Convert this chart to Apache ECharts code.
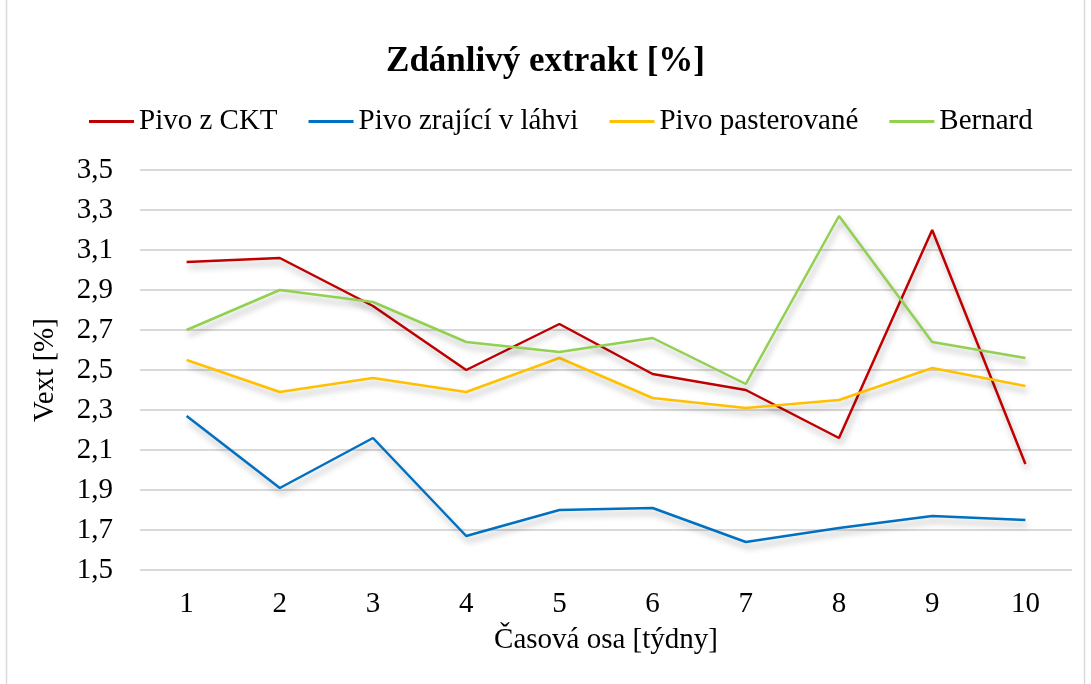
<!DOCTYPE html>
<html>
<head>
<meta charset="utf-8">
<script src="https://cdn.jsdelivr.net/npm/echarts@6/dist/echarts.min.js"></script>
<style>
  html, body { margin: 0; padding: 0; background: #fff; }
  #graf { width: 1091px; height: 684px; }
</style>
</head>
<body>
<div id="graf"></div>
<script>
// Data
const tydny = ['1', '2', '3', '4', '5', '6', '7', '8', '9', '10'];
const pivoCKT = [3.04, 3.06, 2.82, 2.50, 2.73, 2.48, 2.40, 2.16, 3.20, 2.03];
const pivoLahev = [2.27, 1.91, 2.16, 1.67, 1.80, 1.81, 1.64, 1.71, 1.77, 1.75];
const pivoPaster = [2.55, 2.39, 2.46, 2.39, 2.56, 2.36, 2.31, 2.35, 2.51, 2.42];
const bernard = [2.70, 2.90, 2.84, 2.64, 2.59, 2.66, 2.43, 3.27, 2.64, 2.56];

const font = '"Liberation Serif", "Times New Roman", serif';

const chart = echarts.init(document.getElementById('graf'));

function serie(name, data, color) {
    return {
        name: name,
        type: 'line',
        data: data,
        symbol: 'none',
        lineStyle: {
            color: color,
            width: 2.5,
            shadowColor: 'rgba(0,0,0,0.3)',
            shadowBlur: 6,
            shadowOffsetX: 2,
            shadowOffsetY: 5
        },
        itemStyle: { color: color }
    };
}

chart.setOption({
    animation: false,
    textStyle: { fontFamily: font },
    graphic: [{
        type: 'rect',
        shape: { x: 6.5, y: -5, width: 1078, height: 700 },
        style: { fill: 'none', stroke: '#d9d9d9', lineWidth: 1.5 },
        silent: true
    }],
    title: {
        text: 'Zdánlivý extrakt [%]',
        left: 'center',
        top: 39,
        textStyle: { fontFamily: font, fontSize: 35, fontWeight: 'bold', color: '#000' }
    },
    legend: {
        top: 102,
        left: 84,
        itemWidth: 45,
        itemHeight: 3,
        itemGap: 31,
        icon: 'rect',
        textStyle: { fontFamily: font, fontSize: 29, color: '#000', padding: [0, 0, 0, 0] },
        data: ['Pivo z CKT', 'Pivo zrající v láhvi', 'Pivo pasterované', 'Bernard']
    },
    grid: { left: 140, right: 19, top: 170, bottom: 114 },
    xAxis: {
        type: 'category',
        data: tydny,
        boundaryGap: true,
        name: 'Časová osa [týdny]',
        nameLocation: 'middle',
        nameGap: 56,
        nameTextStyle: { fontFamily: font, fontSize: 29, color: '#000' },
        axisLine: { show: false },
        axisTick: { show: false },
        axisLabel: { fontFamily: font, fontSize: 29, color: '#000', margin: 20 }
    },
    yAxis: {
        type: 'value',
        min: 1.5,
        max: 3.5,
        interval: 0.2,
        name: 'Vext [%]',
        nameLocation: 'middle',
        nameGap: 80,
        nameRotate: 90,
        nameTextStyle: { fontFamily: font, fontSize: 29, color: '#000' },
        axisLine: { show: false },
        axisTick: { show: false },
        splitLine: { lineStyle: { color: '#d9d9d9', width: 2 } },
        axisLabel: {
            fontFamily: font, fontSize: 29, color: '#000', margin: 27,
            formatter: v => v.toFixed(1).replace('.', ',')
        }
    },
    series: [
        serie('Pivo z CKT', pivoCKT, '#C00000'),
        serie('Pivo zrající v láhvi', pivoLahev, '#0070C0'),
        serie('Pivo pasterované', pivoPaster, '#FFC000'),
        serie('Bernard', bernard, '#92D050')
    ]
});
</script>
</body>
</html>
